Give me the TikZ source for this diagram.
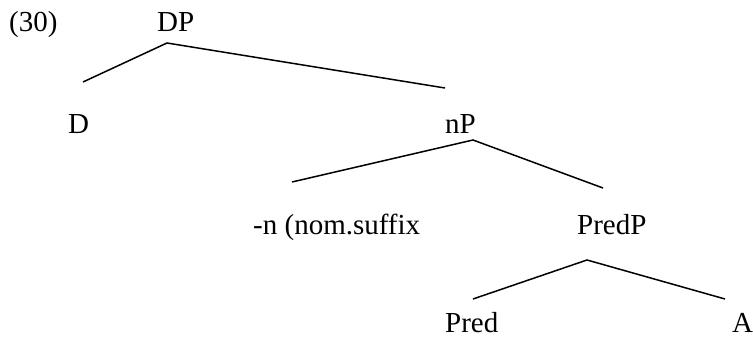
\documentclass[tikz,border=0pt]{standalone}
\usepackage{fontspec}
\setmainfont{Liberation Serif}
\begin{document}
\begin{tikzpicture}[x=1pt,y=-1pt,
  lbl/.style={anchor=base west,inner sep=0pt,font=\fontsize{29}{34}\selectfont},
  branch/.style={line width=1.5pt,line cap=butt}]
\useasboundingbox (0,0) rectangle (753,337);
% labels
\node[lbl] (ex) at (9,32) {(30)};
\node[lbl] (dp) at (157,32) {DP};
\node[lbl] (d) at (68,133) {D};
\node[lbl] (np) at (445,133) {nP};
\node[lbl] (nsuf) at (253,234) {-n (nom.suffix};
\node[lbl] (predp) at (577,234) {PredP};
\node[lbl] (pred) at (445,332) {Pred};
\node[lbl] (a) at (732,332) {A};
% branch points
\coordinate (dpT) at (167,43);
\coordinate (dpL) at (83,82);
\coordinate (dpR) at (445,88);
\coordinate (npT) at (473,140);
\coordinate (npL) at (292,182);
\coordinate (npR) at (603,188);
\coordinate (ppT) at (587,260);
\coordinate (ppL) at (473,299);
\coordinate (ppR) at (725,299);
\draw[branch] (dpL) -- (dpT) -- (dpR);
\draw[branch] (npL) -- (npT) -- (npR);
\draw[branch] (ppL) -- (ppT) -- (ppR);
\end{tikzpicture}
\end{document}
